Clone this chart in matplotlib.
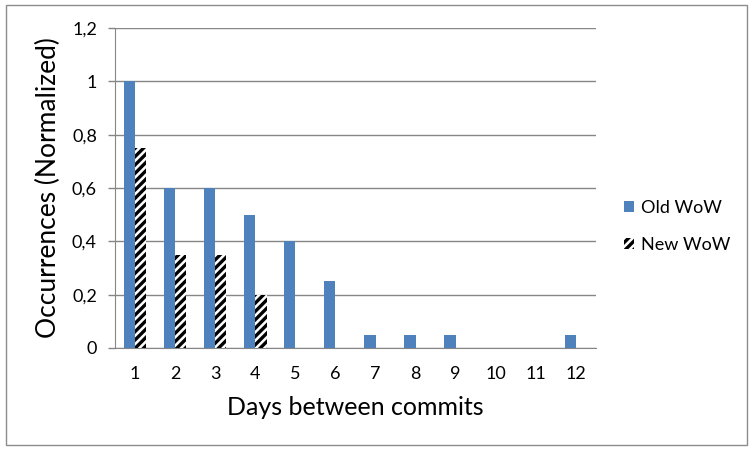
import matplotlib
matplotlib.use('Agg')
import matplotlib.pyplot as plt
import numpy as np
from matplotlib.patches import Rectangle

days = [1, 2, 3, 4, 5, 6, 7, 8, 9, 10, 11, 12]
old_wow = [1.0, 0.6, 0.6, 0.5, 0.4, 0.25, 0.05, 0.05, 0.05, 0, 0, 0.05]
new_wow = [0.75, 0.35, 0.35, 0.2, 0, 0, 0, 0, 0, 0, 0, 0]
y_ticks = [0, 0.2, 0.4, 0.6, 0.8, 1.0, 1.2]
y_labels = ['0', '0,2', '0,4', '0,6', '0,8', '1', '1,2']

plt.rcParams['font.family'] = ['Lato', 'DejaVu Sans']
plt.rcParams['hatch.linewidth'] = 2.4

blue = '#4F81BD'
grid_gray = '#868686'

fig = plt.figure(figsize=(7.53, 4.5), dpi=100)
ax = fig.add_axes([0.1527, 0.2267, 0.6388, 0.7111])

# outer chart frame
fig.patches.append(Rectangle((0.008, 0.011), 0.984, 0.978, transform=fig.transFigure,
                             fill=False, edgecolor='#8c8c8c', linewidth=1.0))

x = np.arange(len(days))
w = 0.28
ax.bar(x - w / 2, old_wow, w, color=blue, linewidth=0, zorder=3, label='Old WoW')
ax.bar(x + w / 2, new_wow, w, color='white', edgecolor='black', hatch='////',
       linewidth=0, zorder=3, label='New WoW')

ax.set_xlim(-0.5, len(days) - 0.5)
ax.set_ylim(0, 1.2)
ax.set_yticks(y_ticks)
ax.set_yticklabels(y_labels, fontsize=13)
ax.set_xticks(x)
ax.set_xticklabels([str(d) for d in days], fontsize=13)
ax.tick_params(axis='x', length=0, pad=13)
ax.tick_params(axis='y', length=5, width=1, color=grid_gray, pad=8)

ax.grid(axis='y', color=grid_gray, linewidth=1, zorder=0)
for s in ['top', 'right']:
    ax.spines[s].set_visible(False)
ax.spines['left'].set_color(grid_gray)
ax.spines['bottom'].set_color(grid_gray)

ax.set_xlabel('Days between commits', fontsize=18, labelpad=10)
ax.set_ylabel('Occurrences (Normalized)', fontsize=19, labelpad=8)

leg = ax.legend(loc='center left', bbox_to_anchor=(1.025, 0.38), frameon=False,
                fontsize=13, handlelength=0.55, handleheight=0.55, handletextpad=0.35,
                labelspacing=1.15)

fig.savefig('out.png', dpi=100)
